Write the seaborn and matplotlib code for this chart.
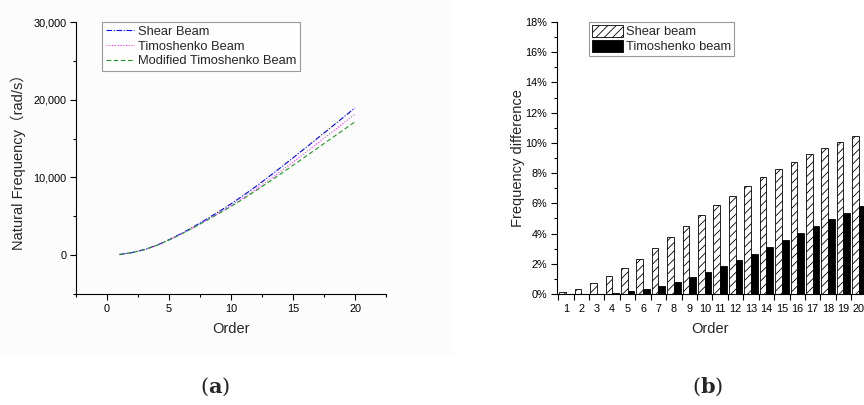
import matplotlib
matplotlib.use("Agg")
import matplotlib.pyplot as plt
import matplotlib.ticker as mticker
from matplotlib.patches import Patch, Rectangle
from matplotlib.lines import Line2D
import seaborn as sns
import pandas as pd

sns.set_theme(style="ticks")
plt.rcParams['font.family'] = ['Liberation Sans', 'Noto Sans CJK SC', 'DejaVu Sans']
plt.rcParams['hatch.linewidth'] = 0.6
plt.rcParams['hatch.color'] = '#555555'

# ---------------- data ----------------
orders = list(range(1, 21))
shear_freq = [80, 321, 705, 1265, 1984, 2784, 3668, 4607, 5580, 6599,
              7686, 8830, 10031, 11262, 12519, 13791, 15077, 16363, 17655, 18951]
timo_freq = [80, 320, 700, 1251, 1954, 2729, 3579, 4474, 5399, 6362,
             7394, 8475, 9608, 10777, 11976, 13195, 14425, 15664, 16905, 18155]
mod_timo_freq = [80, 320, 700, 1250, 1950, 2720, 3560, 4440, 5340, 6270,
                 7260, 8290, 9360, 10450, 11560, 12680, 13800, 14920, 16040, 17160]

shear_diff = [0.10, 0.30, 0.70, 1.17, 1.75, 2.34, 3.02, 3.77, 4.50, 5.25,
              5.87, 6.51, 7.17, 7.77, 8.30, 8.76, 9.25, 9.67, 10.07, 10.44]
timo_diff = [0.00, 0.00, 0.01, 0.09, 0.18, 0.33, 0.53, 0.77, 1.10, 1.46,
             1.85, 2.23, 2.65, 3.13, 3.60, 4.06, 4.53, 4.99, 5.39, 5.80]

line_labels = ["Shear Beam", "Timoshenko Beam", "Modified Timoshenko Beam"]
bar_labels = ["Shear beam", "Timoshenko beam"]

# ---------------- figure ----------------
fig = plt.figure(figsize=(8.64, 4.05), dpi=100)
fig.patches.append(Rectangle((0, (405 - 355) / 405), 453 / 864, 355 / 405,
                             transform=fig.transFigure, facecolor='#fcfcfc',
                             edgecolor='none', zorder=-10))

tick_fs = 7.8
lab_fs = 10.5
leg_fs = 9.3

# ---- panel (a) ----
axa = fig.add_axes([76 / 864, (405 - 294) / 405, 310 / 864, 272 / 405])
axa.patch.set_alpha(0)
styles = [
    ("#0000ff", (0, (5, 1.5, 1, 1.5))),
    ("#ff33ff", (0, (1, 1.5))),
    ("#1a9a1a", (0, (4, 2.5))),
]
for ys, lab, (c, ls) in zip([shear_freq, timo_freq, mod_timo_freq], line_labels, styles):
    sns.lineplot(x=orders, y=ys, ax=axa, color=c, linestyle=ls, linewidth=0.8,
                 label=lab, legend=False)
axa.set_xlim(-2.5, 22.5)
axa.set_ylim(-5000, 30000)
axa.set_xticks([0, 5, 10, 15, 20])
axa.set_yticks([0, 10000, 20000, 30000])
axa.xaxis.set_minor_locator(mticker.MultipleLocator(2.5))
axa.yaxis.set_minor_locator(mticker.MultipleLocator(5000))
axa.yaxis.set_major_formatter(mticker.FuncFormatter(lambda v, p: f"{int(v):,}"))
sns.despine(ax=axa)
for s in ['left', 'bottom']:
    axa.spines[s].set_linewidth(0.8)
    axa.spines[s].set_color('black')
axa.tick_params(which='major', length=4, width=0.8, labelsize=tick_fs, colors='black', pad=3)
axa.tick_params(which='minor', length=2.5, width=0.8, colors='black')
axa.set_xlabel("Order", fontsize=lab_fs, labelpad=6)
axa.set_ylabel("Natural Frequency（rad/s）", fontsize=lab_fs, labelpad=5)
handles_a = [Line2D([0], [0], color=c, linestyle=ls, linewidth=0.8) for c, ls in styles]
lega = axa.legend(handles_a, line_labels, loc='upper left',
                  bbox_to_anchor=((102 - 76) / 310, 1.0), fontsize=leg_fs,
                  frameon=True, fancybox=False, edgecolor='#808080',
                  handlelength=2.2, handletextpad=0.25, borderpad=0.3,
                  labelspacing=0.2, borderaxespad=0)
lega.get_frame().set_linewidth(0.8)

# ---- panel (b) ----
axb = fig.add_axes([556.7 / 864, (405 - 294) / 405, (864 - 556.7) / 864, 272 / 405])
axb.patch.set_alpha(0)
df = pd.DataFrame({
    "Order": [str(o) for o in orders] * 2,
    "diff": shear_diff + timo_diff,
    "Beam": [bar_labels[0]] * len(orders) + [bar_labels[1]] * len(orders),
})
sns.barplot(data=df, x="Order", y="diff", hue="Beam",
            palette={bar_labels[0]: "white", bar_labels[1]: "black"},
            edgecolor="black", linewidth=0.6, width=0.87, ax=axb,
            legend=False, saturation=1)
for bar in axb.containers[0]:
    bar.set_hatch('////')
axb.set_xlim(-0.6, 19.33)
axb.set_ylim(0, 18)
axb.set_yticks(range(0, 19, 2))
axb.yaxis.set_minor_locator(mticker.MultipleLocator(1))
axb.yaxis.set_major_formatter(mticker.FuncFormatter(lambda v, p: f"{int(v)}%"))
axb.xaxis.set_minor_locator(mticker.FixedLocator([i - 0.5 for i in range(21)]))
sns.despine(ax=axb)
for s in ['left', 'bottom']:
    axb.spines[s].set_linewidth(0.8)
    axb.spines[s].set_color('black')
axb.tick_params(axis='x', which='major', length=0, labelsize=tick_fs, colors='black', pad=7)
axb.tick_params(axis='x', which='minor', length=4, width=0.8, colors='black')
axb.tick_params(axis='y', which='major', length=4, width=0.8, labelsize=tick_fs, colors='black', pad=3)
axb.tick_params(axis='y', which='minor', length=2.5, width=0.8, colors='black')
axb.set_xlabel("Order", fontsize=lab_fs, labelpad=6)
axb.set_ylabel("Frequency difference", fontsize=lab_fs, labelpad=0)
handles_b = [Patch(facecolor='white', edgecolor='black', hatch='////', linewidth=0.6),
             Patch(facecolor='black', edgecolor='black', linewidth=0.6)]
legb = axb.legend(handles_b, bar_labels, loc='upper left',
                  bbox_to_anchor=((589 - 556.7) / 307.3, 1.0), fontsize=leg_fs,
                  frameon=True, fancybox=False, edgecolor='#808080',
                  handlelength=2.4, handleheight=1.05, handletextpad=0.25,
                  borderpad=0.2, labelspacing=0.12, borderaxespad=0)
legb.get_frame().set_linewidth(0.8)

# ---- panel captions ----
plt.rcParams['mathtext.fontset'] = 'dejavuserif'
fig.text(215 / 864, 1 - 387 / 405, r"($\mathbf{a}$)", ha='center', va='center',
         fontsize=15, family='DejaVu Serif')
fig.text(708 / 864, 1 - 387 / 405, r"($\mathbf{b}$)", ha='center', va='center',
         fontsize=15, family='DejaVu Serif')

fig.savefig("out.png", dpi=100)
